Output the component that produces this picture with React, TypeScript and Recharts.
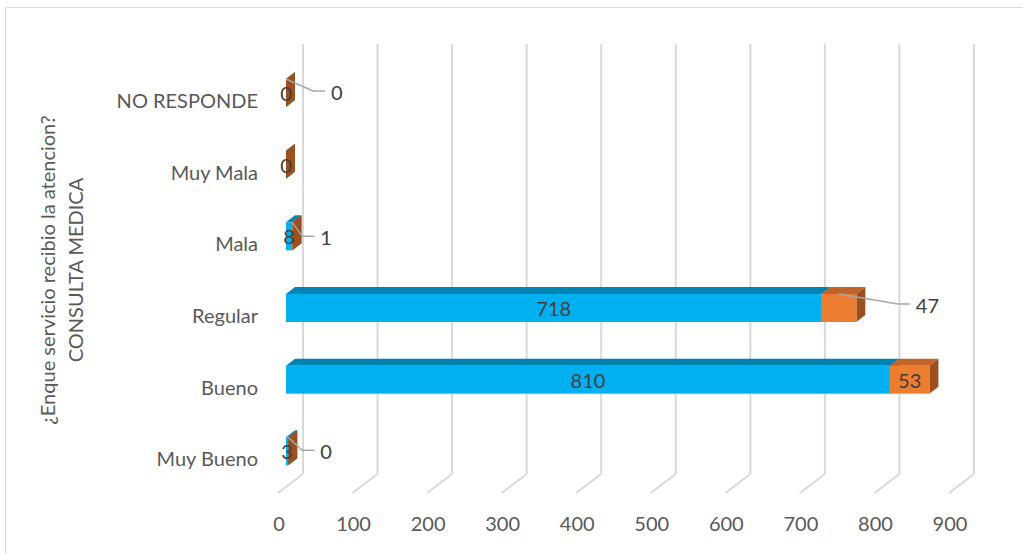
import React from 'react';
import { BarChart, Bar, XAxis, YAxis, CartesianGrid, LabelList } from 'recharts';

// Categories, top to bottom
const categories = ['NO RESPONDE', 'Muy Mala', 'Mala', 'Regular', 'Bueno', 'Muy Bueno'];
// First stacked series (blue)
const serie1 = [0, 0, 8, 718, 810, 3];
// Second stacked series (orange)
const serie2 = [0, 0, 1, 47, 53, 0];
// Value axis ticks
const xTicks = [0, 100, 200, 300, 400, 500, 600, 700, 800, 900];

const titleLine1 = '¿Enque servicio recibio la atencion?';
const titleLine2 = 'CONSULTA MEDICA';

const rows = categories.map((cat, i) => ({ cat, serie1: serie1[i], serie2: serie2[i] }));

// 3D look: floor depth, bar offset inside the depth and the bar's own depth
const FLOOR_DX = 25;
const FLOOR_DY = 19;
const BAR_OFF_X = 8;
const BAR_OFF_Y = 6;
const BAR_DX = 9;
const BAR_DY = 7;

const FONT = 'Lato, "Open Sans", sans-serif';
const TEXT = '#595959';
const LABEL = '#404040';
const GRID = '#d9d9d9';
const LEADER = '#a6a6a6';

const BLUE = { front: '#00b0f0', top: '#0084b4', side: '#0079a6' };
const ORANGE = { front: '#ed7d31', top: '#c1642a', side: '#9c501f' };

// Label placement for the orange series: inside the bar, with a leader line, or hidden
type Placement = { kind: 'inside' } | { kind: 'leader'; dx: number; dy: number } | { kind: 'none' };
const orangePlacement: Record<string, Placement> = {
  'NO RESPONDE': { kind: 'leader', dx: 27, dy: 12 },
  'Muy Mala': { kind: 'none' },
  Mala: { kind: 'leader', dx: 10, dy: 14 },
  Regular: { kind: 'leader', dx: 59, dy: 10 },
  Bueno: { kind: 'inside' },
  'Muy Bueno': { kind: 'leader', dx: 14, dy: 13 },
};

const makeBox = (c: { front: string; top: string; side: string }) => (props: any) => {
  const { x, y, width, height } = props;
  const w = Math.max(0, Number(width) || 0);
  const h = Number(height) || 0;
  const fx = x + BAR_OFF_X;
  const fy = y - BAR_OFF_Y;
  const top = `${fx},${fy} ${fx + w},${fy} ${fx + w + BAR_DX},${fy - BAR_DY} ${fx + BAR_DX},${fy - BAR_DY}`;
  const side = `${fx + w},${fy} ${fx + w + BAR_DX},${fy - BAR_DY} ${fx + w + BAR_DX},${fy - BAR_DY + h} ${fx + w},${fy + h}`;
  return (
    <g>
      <polygon points={top} fill={c.top} />
      <polygon points={side} fill={c.side} />
      {w > 0 && <rect x={fx} y={fy} width={w} height={h} fill={c.front} />}
    </g>
  );
};

const blueBox = makeBox(BLUE);
const orangeBox = makeBox(ORANGE);

const centerLabel = (props: any) => {
  const { x, y, width, height, value } = props;
  const cx = x + BAR_OFF_X + Math.max(0, width) / 2;
  const cy = y - BAR_OFF_Y + height / 2;
  return (
    <text x={cx} y={cy} textAnchor="middle" dominantBaseline="central" fontFamily={FONT} fontSize={20} fill={LABEL}>
      {value}
    </text>
  );
};

const orangeLabel = (props: any) => {
  const { x, y, width, height, value, index } = props;
  const p = orangePlacement[categories[index]];
  if (!p || p.kind === 'none') return null;
  if (p.kind === 'inside') return centerLabel(props);
  const sx = x + BAR_OFF_X + Math.max(0, width) / 2;
  const sy = y - BAR_OFF_Y;
  const ex = sx + p.dx;
  const ey = sy + p.dy;
  const hx = ex + 12;
  return (
    <g>
      <polyline points={`${sx},${sy} ${ex},${ey} ${hx},${ey}`} fill="none" stroke={LEADER} strokeWidth={1.5} />
      <text x={hx + 6} y={ey + 1} textAnchor="start" dominantBaseline="central" fontFamily={FONT} fontSize={20} fill={LABEL}>
        {value}
      </text>
    </g>
  );
};

// Back wall line plus the floor line running to the front edge
const gridLine = (props: any) => {
  const { x1, y1, y2 } = props;
  const bx = x1 + FLOOR_DX;
  return (
    <g key={`g-${props.index}`}>
      <line x1={bx} y1={y1 - FLOOR_DY} x2={bx} y2={y2 - FLOOR_DY} stroke={GRID} strokeWidth={2} />
      <line x1={bx} y1={y2 - FLOOR_DY} x2={x1} y2={y2} stroke={GRID} strokeWidth={2} />
    </g>
  );
};

const xTick = (props: any) => {
  const { x, y, payload } = props;
  return (
    <text x={x + 1} y={y + 30} textAnchor="middle" dominantBaseline="central" fontFamily={FONT} fontSize={20} fill={TEXT}>
      {payload.value}
    </text>
  );
};

const yTick = (props: any) => {
  const { x, y, payload } = props;
  return (
    <text x={x} y={y + 1} textAnchor="end" dominantBaseline="central" fontFamily={FONT} fontSize={20} fill={TEXT}>
      {payload.value}
    </text>
  );
};

const YTitle = (props: any) => {
  const vb = props.viewBox || { y: 63, height: 430 };
  const cy = vb.y + vb.height / 2 - 8;
  return (
    <g>
      <text x={55} y={cy} transform={`rotate(-90 55 ${cy})`} textAnchor="middle" fontFamily={FONT} fontSize={20} fill={TEXT}>
        {titleLine1}
      </text>
      <text x={83} y={cy} transform={`rotate(-90 83 ${cy})`} textAnchor="middle" fontFamily={FONT} fontSize={20} fill={TEXT}>
        {titleLine2}
      </text>
    </g>
  );
};

export default function App() {
  return (
    <div style={{ position: 'absolute', left: 0, top: 0, width: 1023, height: 554, overflow: 'hidden', background: '#fff' }}>
      <div
        style={{
          position: 'absolute',
          left: 5,
          top: 7,
          width: 1100,
          height: 700,
          border: '1.5px solid #d9d9d9',
        }}
      />
      <div style={{ position: 'absolute', left: 0, top: 0 }}>
        <BarChart
          width={1023}
          height={554}
          layout="vertical"
          data={rows}
          barSize={28}
          margin={{ top: 63, right: 74, bottom: 21, left: 0 }}
        >
          <CartesianGrid horizontal={false} vertical={gridLine} />
          <XAxis
            type="number"
            domain={[0, 900]}
            ticks={xTicks}
            interval={0}
            axisLine={false}
            tickLine={false}
            tickSize={0}
            tickMargin={0}
            height={40}
            tick={xTick}
          />
          <YAxis
            type="category"
            dataKey="cat"
            width={278}
            axisLine={false}
            tickLine={false}
            tickSize={0}
            tickMargin={20}
            tick={yTick}
            interval={0}
            label={<YTitle />}
          />
          <Bar dataKey="serie1" stackId="a" shape={blueBox} isAnimationActive={false}>
            <LabelList dataKey="serie1" content={centerLabel} />
          </Bar>
          <Bar dataKey="serie2" stackId="a" shape={orangeBox} isAnimationActive={false}>
            <LabelList dataKey="serie2" content={orangeLabel} />
          </Bar>
        </BarChart>
      </div>
    </div>
  );
}
